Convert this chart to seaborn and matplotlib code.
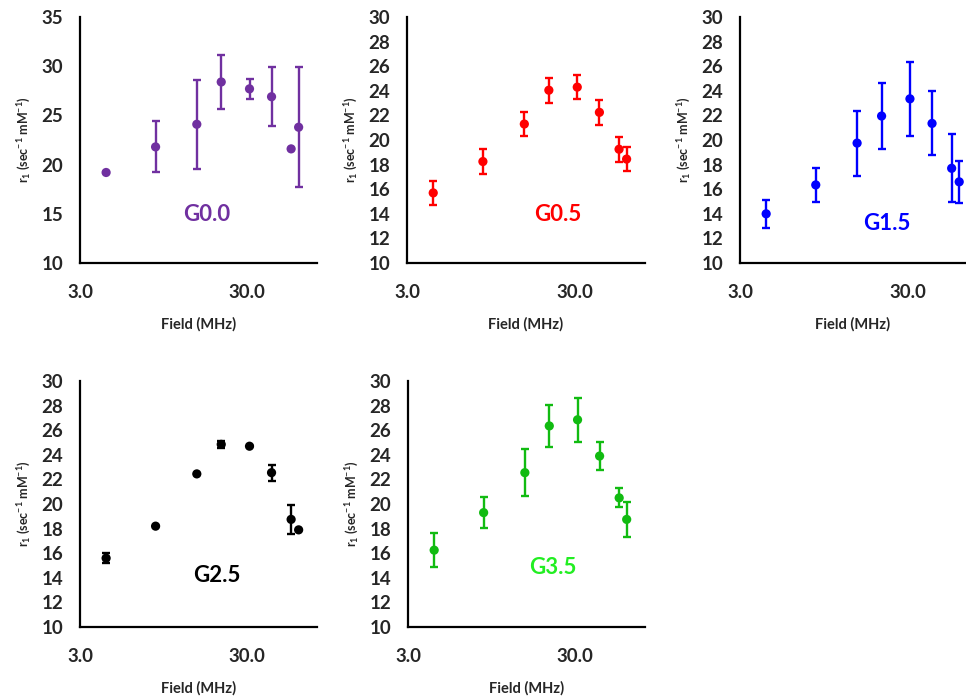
import numpy as np
import pandas as pd
import matplotlib
matplotlib.use("Agg")
import matplotlib.pyplot as plt
import seaborn as sns

# ---- data ----
field = [4.3, 8.5, 15.0, 21.0, 31.0, 42.0, 55.0, 61.0]

names = ["G0.0", "G0.5", "G1.5", "G2.5", "G3.5"]

r1_g00 = [19.2, 21.8, 24.1, 28.4, 27.7, 26.9, 21.6, 23.8]
err_g00 = [0.0, 2.6, 4.5, 2.7, 1.0, 3.0, 0.0, 6.1]

r1_g05 = [15.7, 18.25, 21.3, 24.05, 24.3, 22.25, 19.25, 18.45]
err_g05 = [1.0, 1.0, 1.0, 1.0, 1.0, 1.0, 1.0, 1.0]

r1_g15 = [14.0, 16.35, 19.75, 21.95, 23.35, 21.35, 17.7, 16.6]
err_g15 = [1.15, 1.4, 2.65, 2.65, 3.0, 2.6, 2.75, 1.7]

r1_g25 = [15.6, 18.2, 22.45, 24.85, 24.7, 22.55, 18.75, 17.9]
err_g25 = [0.4, 0.0, 0.0, 0.3, 0.0, 0.65, 1.15, 0.0]

r1_g35 = [16.25, 19.3, 22.55, 26.35, 26.85, 23.9, 20.5, 18.75]
err_g35 = [1.4, 1.27, 1.9, 1.7, 1.8, 1.15, 0.78, 1.4]

x_ticks = [3.0, 30.0]
x_tick_labels = ["3.0", "30.0"]

# ---- style ----
sns.set_style("white")
plt.rcParams['font.family'] = ['Lato', 'DejaVu Sans']
plt.rcParams['mathtext.default'] = 'regular'

marker_colors = ["#7030A0", "#FF0000", "#0000FF", "#000000", "#11BB11"]
label_colors = ["#7030A0", "#FF0000", "#0000FF", "#000000", "#22EE22"]

fig = plt.figure(figsize=(9.66, 6.98), dpi=100)

H = 0.3524
positions = [
    [0.0828, 0.6232, 0.2453, H],
    [0.4213, 0.6232, 0.2464, H],
    [0.7660, 0.6232, 0.2329, H],
    [0.0828, 0.1017, 0.2453, H],
    [0.4224, 0.1017, 0.2453, H],
]
xmax = [78.5, 78.5, 66.0, 78.5, 78.5]
ylims = [(10, 35), (10, 30), (10, 30), (10, 30), (10, 30)]
yticks = [np.arange(10, 36, 5), np.arange(10, 31, 2), np.arange(10, 31, 2),
          np.arange(10, 31, 2), np.arange(10, 31, 2)]
label_pos = [(207, 215), (558, 215), (887, 223), (217, 575), (553, 567)]

series = [(r1_g00, err_g00), (r1_g05, err_g05), (r1_g15, err_g15),
          (r1_g25, err_g25), (r1_g35, err_g35)]

for i, (name, (vals, errs)) in enumerate(zip(names, series)):
    ax = fig.add_axes(positions[i])
    df = pd.DataFrame({"field": field, "r1": vals, "err": errs})
    ax.errorbar(df["field"], df["r1"], yerr=df["err"], fmt="none",
                ecolor=marker_colors[i], elinewidth=1.7, capsize=3,
                capthick=1.7, zorder=2)
    sns.scatterplot(data=df, x="field", y="r1", ax=ax, color=marker_colors[i],
                    s=44, edgecolor="none", zorder=3, legend=False)
    ax.set_xscale("log")
    ax.set_xlim(3.0, xmax[i])
    ax.set_ylim(*ylims[i])
    ax.set_xticks(x_ticks)
    ax.set_xticklabels(x_tick_labels)
    ax.minorticks_off()
    ax.set_yticks(yticks[i])
    ax.set_yticklabels([str(v) for v in yticks[i]])
    for lab in ax.get_xticklabels() + ax.get_yticklabels():
        lab.set_fontweight("bold")
        lab.set_fontsize(13.5)
    ax.tick_params(axis="x", length=0, pad=15)
    ax.tick_params(axis="y", length=0, pad=12)
    for s in ["top", "right"]:
        ax.spines[s].set_visible(False)
    for s in ["left", "bottom"]:
        ax.spines[s].set_color("black")
        ax.spines[s].set_linewidth(1.6)
    ax.set_xlabel("Field (MHz)", fontsize=10.5, fontweight="bold", labelpad=12)
    ax.set_ylabel("r$_1$ (sec$^{-1}$ mM$^{-1}$)", fontsize=9, fontweight="bold",
                  labelpad=6)
    ax.grid(False)
    ax.set_facecolor("none")
    lx, ly = label_pos[i]
    fig.text(lx / 966, 1 - ly / 698, name, color=label_colors[i], fontsize=16,
             fontweight="bold", ha="center", va="center")

fig.savefig("out.png", dpi=100)
